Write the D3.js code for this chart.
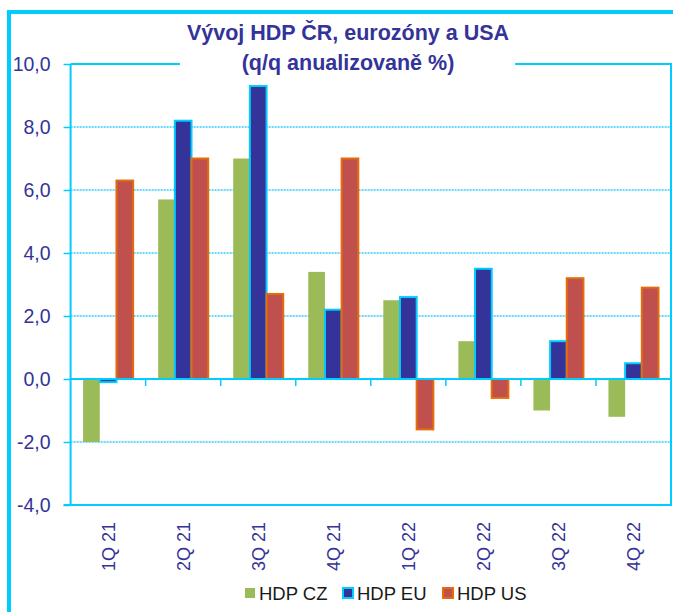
<!DOCTYPE html>
<html><head><meta charset="utf-8">
<script src="https://cdn.jsdelivr.net/npm/d3@7/dist/d3.min.js"></script>
<style>body{margin:0;background:#fff}svg{display:block}text{font-family:"Liberation Sans",Arial,sans-serif}</style>
</head><body>
<svg id="c" width="673" height="612"></svg>
<script>
const categories = ["1Q 21","2Q 21","3Q 21","4Q 21","1Q 22","2Q 22","3Q 22","4Q 22"];
const seriesNames = ["HDP CZ","HDP EU","HDP US"];
const hdpCZ = [-2.0, 5.7, 7.0, 3.4, 2.5, 1.2, -1.0, -1.2];
const hdpEU = [-0.1, 8.2, 9.3, 2.2, 2.6, 3.5, 1.2, 0.5];
const hdpUS = [6.3, 7.0, 2.7, 7.0, -1.6, -0.6, 3.2, 2.9];
const yTicks = [-4, -2, 0, 2, 4, 6, 8, 10];
const titleLines = ["Vývoj HDP ČR, eurozóny a USA", "(q/q anualizovaně %)"];

const fills = ["#9BBB59", "#333399", "#C0504D"];
const strokes = [null, "#00CCFF", "#E46C0A"];
const cyan = "#00CCFF";
const navy = "#333399";

const svg = d3.select("#c");
const L = 70.6, R = 671, T = 64, B = 505;

// outer frame
svg.append("rect").attr("x", 9).attr("y", 12).attr("width", 720).attr("height", 720)
  .attr("fill", "none").attr("stroke", cyan).attr("stroke-width", 4);

const x0 = d3.scaleBand().domain(categories).range([L, R]).paddingInner(0).paddingOuter(0);
const x1 = d3.scaleBand().domain(seriesNames).range([0, x0.bandwidth()]).paddingInner(0).paddingOuter(0.75);
const y = d3.scaleLinear().domain([-4, 10]).range([B, T]);

// gridlines
svg.append("g").selectAll("line").data(yTicks.filter(v => v !== 0 && v !== -4 && v !== 10)).join("line")
  .attr("x1", L).attr("x2", R).attr("y1", d => y(d)).attr("y2", d => y(d))
  .attr("stroke", "#33CCFF").attr("stroke-width", 1.3).attr("stroke-dasharray", "2,1");

// y axis
const yAxis = d3.axisLeft(y).tickValues(yTicks).tickSize(7)
  .tickFormat(d => d.toFixed(1).replace(".", ","));
const ya = svg.append("g").attr("transform", `translate(${L},0)`).call(yAxis);
ya.select(".domain").remove();
ya.selectAll(".tick line").attr("stroke", cyan).attr("stroke-width", 1.5);
ya.selectAll(".tick text").attr("fill", navy).attr("font-size", 19.5).attr("x", -20).attr("dy", "0.35em")
  .attr("font-family", "Liberation Sans, Arial, sans-serif");

// bars
const data = [hdpCZ, hdpEU, hdpUS];
seriesNames.forEach((s, si) => {
  svg.append("g").selectAll("rect").data(categories).join("rect")
    .attr("x", c => x0(c) + x1(s))
    .attr("width", x1.bandwidth())
    .attr("y", (c, i) => y(Math.max(0, data[si][i])))
    .attr("height", (c, i) => Math.abs(y(data[si][i]) - y(0)))
    .attr("fill", fills[si])
    .attr("stroke", strokes[si] || "none")
    .attr("stroke-width", strokes[si] ? 2 : 0);
});

// frame of plot area
svg.append("line").attr("x1", L).attr("x2", L).attr("y1", T).attr("y2", B).attr("stroke", cyan).attr("stroke-width", 2);
svg.append("line").attr("x1", R).attr("x2", R).attr("y1", T).attr("y2", B).attr("stroke", cyan).attr("stroke-width", 2);
svg.append("line").attr("x1", L - 7).attr("x2", R + 1).attr("y1", B).attr("y2", B).attr("stroke", cyan).attr("stroke-width", 2);
svg.append("line").attr("x1", L).attr("x2", R + 1).attr("y1", T).attr("y2", T).attr("stroke", cyan).attr("stroke-width", 2);

// zero axis with category ticks
const xa = svg.append("g").attr("transform", `translate(0,${y(0)})`)
  .call(d3.axisBottom(x0).tickSize(0).tickFormat(""));
xa.select(".domain").attr("stroke", cyan).attr("stroke-width", 2).attr("d", `M${L},0H${R}`);
svg.append("g").selectAll("line").data(categories.slice(1)).join("line")
  .attr("x1", c => x0(c)).attr("x2", c => x0(c)).attr("y1", y(0)).attr("y2", y(0) + 7)
  .attr("stroke", cyan).attr("stroke-width", 1.5);

// category labels (rotated)
svg.append("g").selectAll("text").data(categories).join("text")
  .attr("transform", c => `translate(${x0(c) + x0.bandwidth() / 2 + 6.8},522) rotate(-90)`)
  .attr("text-anchor", "end").attr("fill", navy).attr("font-size", 18).text(c => c);

// title background + title
svg.append("rect").attr("x", 180).attr("y", 18).attr("width", 335).attr("height", 60).attr("fill", "#fff");
svg.append("g").selectAll("text").data(titleLines).join("text")
  .attr("x", 348).attr("y", (d, i) => 40 + i * 30).attr("text-anchor", "middle")
  .attr("fill", navy).attr("font-weight", "bold").attr("font-size", 21.5).text(d => d);

// legend
const legX = [245, 343, 443];
const lg = svg.append("g").selectAll("g").data(seriesNames).join("g")
  .attr("transform", (d, i) => `translate(${legX[i]},588)`);
lg.append("rect").attr("width", 10).attr("height", 10)
  .attr("fill", (d, i) => fills[i])
  .attr("stroke", (d, i) => strokes[i] || "none").attr("stroke-width", (d, i) => strokes[i] ? 2 : 0);
lg.append("text").attr("x", 14).attr("y", 11.5).attr("fill", "#1a1a1a").attr("font-size", 18.5).text(d => d);
</script>
</body></html>
